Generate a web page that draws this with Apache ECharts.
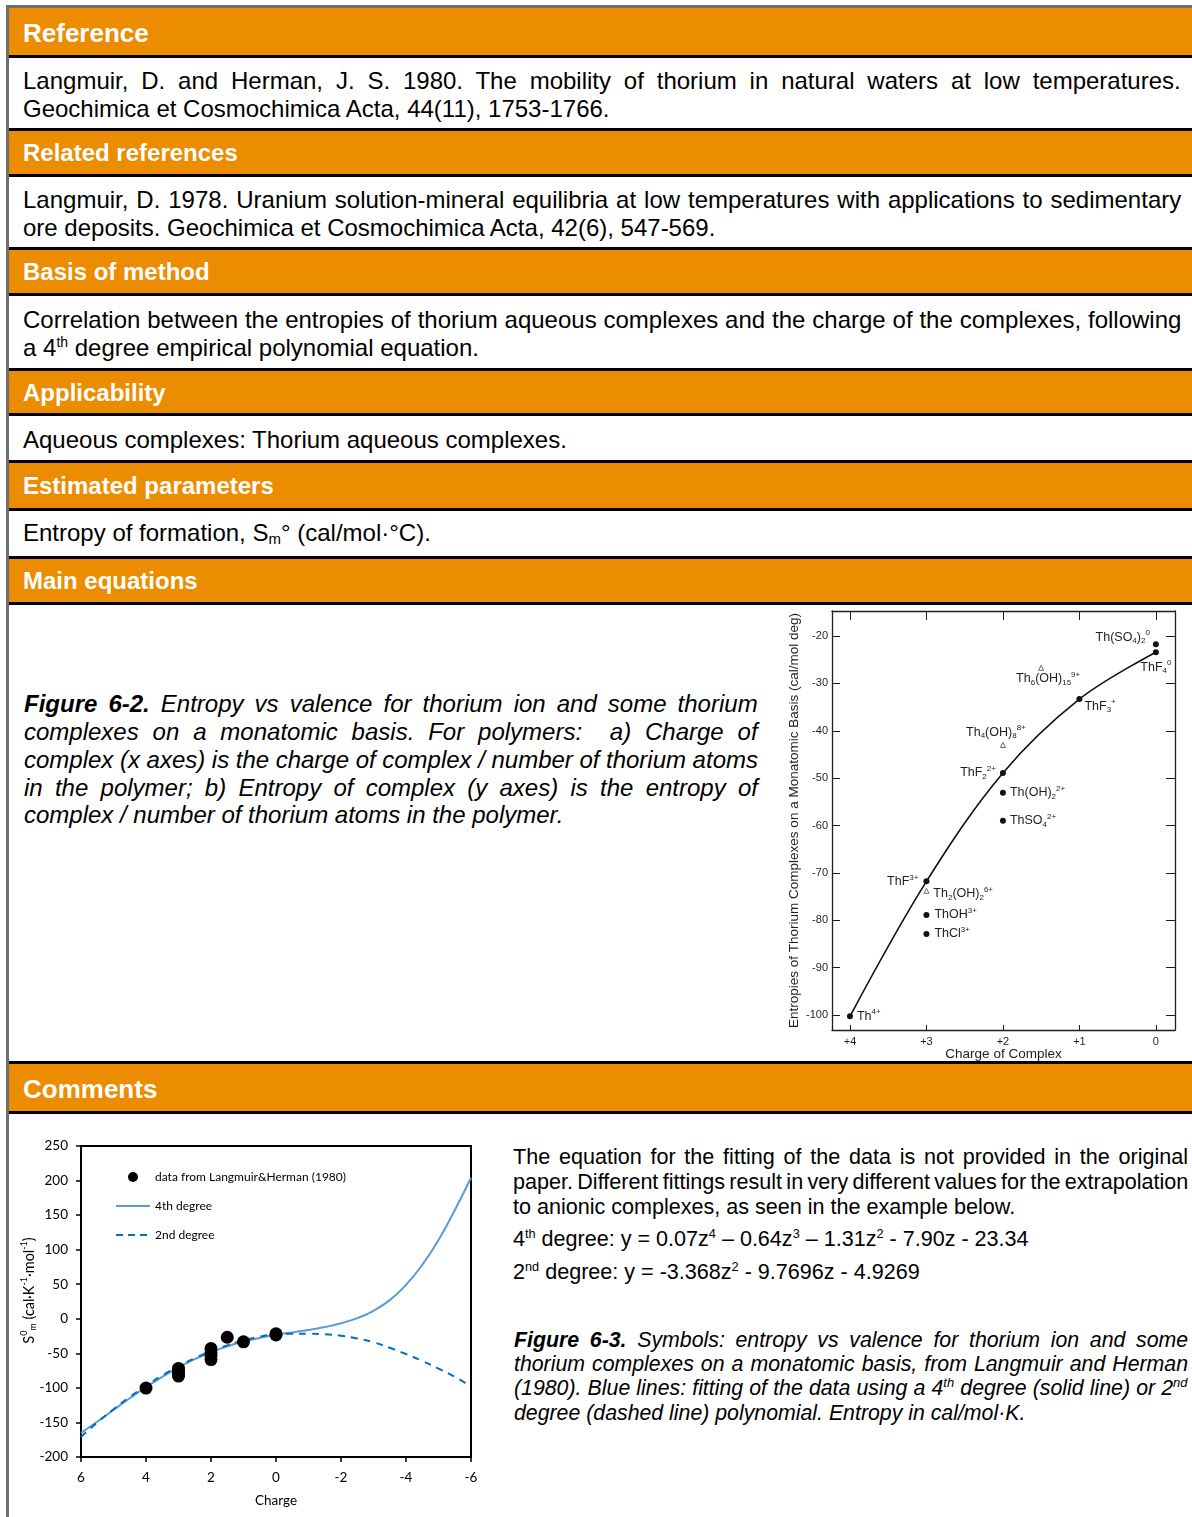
<!DOCTYPE html>
<html><head><meta charset="utf-8">
<script src="https://cdn.jsdelivr.net/npm/echarts@6/dist/echarts.min.js"></script>
<style>
html,body{margin:0;padding:0;background:#fff;}
body{width:1192px;height:1517px;position:relative;overflow:hidden;font-family:'Liberation Sans',Arial,sans-serif;color:#000;}
.hdr{position:absolute;left:9px;width:1183px;background:#EC8C00;color:#fff;font-weight:bold;font-size:24px;display:flex;align-items:center;padding-left:14px;box-sizing:border-box;}
.bl{position:absolute;left:9px;width:1183px;height:3px;background:#000;}
.ln{position:absolute;left:23px;width:1158px;height:28px;line-height:28px;font-size:24px;white-space:nowrap;}
.cap{left:24px;width:734px;font-style:italic;}
.nar{left:513px;width:689px;height:25px;line-height:25px;font-size:22px;transform:scaleX(0.98);transform-origin:0 0;}
.cap3{left:514px;width:674px;height:24px;line-height:24px;font-size:21.3px;font-style:italic;}
sup,sub{line-height:0;}
</style></head>
<body>
<div style="position:absolute;left:6px;top:5px;width:1186px;height:3px;background:#6e6e6e"></div>
<div style="position:absolute;left:6px;top:5px;width:3px;height:1512px;background:#6e6e6e"></div>

<div class="hdr" style="top:8px;height:47px;font-size:26px;padding-top:3px">Reference</div>
<div class="bl" style="top:55px"></div>
<div class="ln j" data-w="1158" style="top:67px">Langmuir, D. and Herman, J. S. 1980. The mobility of thorium in natural waters at low temperatures.</div>
<div class="ln" style="top:95px">Geochimica et Cosmochimica Acta, 44(11), 1753-1766.</div>
<div class="bl" style="top:128px"></div>

<div class="hdr" style="top:131px;height:43px">Related references</div>
<div class="bl" style="top:174px"></div>
<div class="ln j" data-w="1158" style="top:186px">Langmuir, D. 1978. Uranium solution-mineral equilibria at low temperatures with applications to sedimentary</div>
<div class="ln" style="top:214px">ore deposits. Geochimica et Cosmochimica Acta, 42(6), 547-569.</div>
<div class="bl" style="top:247px"></div>

<div class="hdr" style="top:250px;height:43px;padding-top:1px">Basis of method</div>
<div class="bl" style="top:293px"></div>
<div class="ln j" data-w="1158" style="top:306px">Correlation between the entropies of thorium aqueous complexes and the charge of the complexes, following</div>
<div class="ln" style="top:334px">a 4<sup style="font-size:14px">th</sup> degree empirical polynomial equation.</div>
<div class="bl" style="top:368px"></div>

<div class="hdr" style="top:371px;height:42px;padding-top:2px">Applicability</div>
<div class="bl" style="top:413px"></div>
<div class="ln" style="top:426px">Aqueous complexes: Thorium aqueous complexes.</div>
<div class="bl" style="top:460px"></div>

<div class="hdr" style="top:463px;height:45px">Estimated parameters</div>
<div class="bl" style="top:508px"></div>
<div class="ln" style="top:519px">Entropy of formation, S<sub style="font-size:15px;vertical-align:-3px">m</sub>° (cal/mol·°C).</div>
<div class="bl" style="top:556px"></div>

<div class="hdr" style="top:559px;height:43px">Main equations</div>
<div class="bl" style="top:602px"></div>

<div class="ln j cap" data-w="734" style="top:690px"><b>Figure 6-2.</b> Entropy vs valence for thorium ion and some thorium</div>
<div class="ln j cap" data-w="734" style="top:718px">complexes on a monatomic basis. For polymers:&nbsp; a) Charge of</div>
<div class="ln j cap" data-w="734" style="top:746px">complex (x axes) is the charge of complex / number of thorium atoms</div>
<div class="ln j cap" data-w="734" style="top:774px">in the polymer; b) Entropy of complex (y axes) is the entropy of</div>
<div class="ln cap" style="top:801px">complex / number of thorium atoms in the polymer.</div>

<div id="scan" style="position:absolute;left:780px;top:605px;width:412px;height:456px"></div>

<div class="bl" style="top:1061px"></div>
<div class="hdr" style="top:1064px;height:47px;font-size:26px;padding-top:3px">Comments</div>
<div class="bl" style="top:1111px"></div>

<div id="excel" style="position:absolute;left:10px;top:1137px;width:480px;height:379px;outline:1px solid #d9d9d9;outline-offset:-1px"></div>

<div class="ln j nar" data-w="689" style="top:1144px">The equation for the fitting of the data is not provided in the original</div>
<div class="ln j nar" data-w="689" style="top:1169px">paper. Different fittings result in very different values for the extrapolation</div>
<div class="ln nar" style="top:1194px">to anionic complexes, as seen in the example below.</div>
<div class="ln nar" style="top:1226px">4<sup style="font-size:13px">th</sup> degree: y = 0.07z<sup style="font-size:13px">4</sup> – 0.64z<sup style="font-size:13px">3</sup> – 1.31z<sup style="font-size:13px">2</sup> - 7.90z - 23.34</div>
<div class="ln nar" style="top:1259px">2<sup style="font-size:13px">nd</sup> degree: y = -3.368z<sup style="font-size:13px">2</sup> - 9.7696z - 4.9269</div>

<div class="ln j cap3" data-w="674" style="top:1328px"><b>Figure 6-3.</b> Symbols: entropy vs valence for thorium ion and some</div>
<div class="ln j cap3" data-w="674" style="top:1352px">thorium complexes on a monatomic basis, from Langmuir and Herman</div>
<div class="ln j cap3" data-w="674" style="top:1376px">(1980). Blue lines: fitting of the data using a 4<sup style="font-size:13px">th</sup> degree (solid line) or 2<sup style="font-size:13px">nd</sup></div>
<div class="ln cap3" style="top:1401px">degree (dashed line) polynomial. Entropy in cal/mol·K.</div>

<script>
// ===== Figure 6-2 (Langmuir & Herman 1980, scanned plot) =====
const scanTickCharges = [0, 1, 2, 3, 4];
const scanTickEntropies = [-100, -90, -80, -70, -60, -50, -40, -30, -20];
// monomeric complexes (filled dots)
const dotCharge  = [4, 3, 3, 3, 2, 2, 2, 1, 0, 0];
const dotEntropy = [-100.3, -71.8, -78.9, -82.9, -48.9, -53.1, -59.0, -33.3, -23.4, -21.7];
const dotNames = ['{n|Th}{sp|4+}', '{n|ThF}{sp|3+}', '{n|ThOH}{sp|3+}', '{n|ThCl}{sp|3+}',
  '{n|ThF}{sb|2}{sp|2+}', '{n|Th(OH)}{sb|2}{sp|2+}', '{n|ThSO}{sb|4}{sp|2+}',
  '{n|ThF}{sb|3}{sp|+}', '{n|ThF}{sb|4}{sp|0}', '{n|Th(SO}{sb|4}{n|)}{sb|2}{sp|0}'];
// polymeric complexes (open triangles)
const triCharge  = [3, 2, 1.5];
const triEntropy = [-73.8, -43.0, -26.7];
const triNames = ['{n|Th}{sb|2}{n|(OH)}{sb|2}{sp|6+}', '{n|Th}{sb|4}{n|(OH)}{sb|8}{sp|8+}', '{n|Th}{sb|6}{n|(OH)}{sb|15}{sp|9+}'];
// fluoride trend curve
const fitCharge  = [4, 3, 2, 1, 0];
const fitEntropy = [-100.3, -71.8, -48.9, -33.3, -23.4];

// ===== Figure 6-3 (Excel chart) =====
const xlCharge  = [4, 3, 3, 3, 3, 2, 2, 2, 2, 1.5, 1, 0, 0];
const xlEntropy = [-100.3, -71.8, -73.8, -78.9, -82.9, -43.0, -48.9, -53.1, -59.0, -26.7, -33.3, -23.4, -21.7];
const curveCharge = [6, 5.5, 5, 4.5, 4, 3.5, 3, 2.5, 2, 1.5, 1, 0.5, 0, -0.5, -1, -1.5, -2, -2.5, -3, -3.5, -4, -4.5, -5, -5.5, -6];
const fit4th = [-165, -149, -132, -115, -99, -84, -70.5, -58.5, -48.5, -40, -33, -27.7, -23, -19.7, -16.2, -12, -6.5, 1, 11.5, 27, 49, 78, 114, 157, 204];
const fit2nd = [-171, -150, -131, -113, -97, -82, -69, -57, -47, -38.5, -31.5, -26, -22.5, -21.5, -21.5, -22.5, -24.5, -28.5, -34, -42, -51, -61, -72, -84, -98];

// ---------- justify single lines via word spacing ----------
document.querySelectorAll('.j').forEach(el => {
  const target = +el.dataset.w;
  el.style.width = 'auto';
  el.style.display = 'inline-block';
  const nat = el.offsetWidth;
  const n = (el.textContent.match(/[ \u00a0]/g) || []).length;
  el.style.wordSpacing = ((target - nat) / n) + 'px';
  el.style.width = target + 'px';
  el.style.display = 'block';
});

// ---------- scan chart ----------
const dotLabelPos = [
  {position:'right', distance:4}, {position:'left', distance:5}, {position:'right', distance:5}, {position:'right', distance:5},
  {position:'left', distance:4}, {position:'right', distance:4}, {position:'right', distance:4},
  {position:'right', distance:2, offset:[0,7]}, {position:'bottom', distance:4}, {position:'left', distance:3, offset:[0,-7]}
];
const triLabelPos = [{position:'right', distance:4, offset:[0,3]}, {position:'top', distance:2, offset:[-7,0]}, {position:'bottom', distance:0, offset:[7,0]}];
const SF = "'Liberation Sans', Arial, sans-serif";
const INK = '#1e1e1e';
const rich = {
  n: {fontSize: 12.5, fontFamily: SF, color: INK, lineHeight: 16},
  sb: {fontSize: 8, fontFamily: SF, color: INK, verticalAlign: 'bottom'},
  sp: {fontSize: 8, fontFamily: SF, color: INK, verticalAlign: 'top'}
};
const scanX = { type:'value', inverse:true, min:-0.25, max:4.235, splitLine:{show:false} };
const scanY = { type:'value', min:-103.2, max:-14.7, splitLine:{show:false} };
const ax = {onZero:false, lineStyle:{color:INK, width:1.3}};
const scan = echarts.init(document.getElementById('scan'));
scan.setOption({
  animation:false,
  backgroundColor:'#fff',
  grid:{left:52, top:6, width:343, height:419, outerBoundsMode:'none', containLabel:false},
  xAxis:[
    Object.assign({}, scanX, {position:'bottom', axisLine:ax,
      axisTick:{inside:true, length:5, customValues:scanTickCharges, lineStyle:{color:INK}},
      axisLabel:{customValues:scanTickCharges, formatter:v=> v>0 ? '+'+v : String(v), fontSize:11, fontFamily:SF, color:INK, margin:6},
      name:'Charge of Complex', nameLocation:'middle', nameGap:17, nameMoveOverlap:false,
      nameTextStyle:{fontSize:13.5, fontFamily:SF, color:INK}}),
    Object.assign({}, scanX, {position:'top', axisLine:ax,
      axisTick:{inside:true, length:9, customValues:scanTickCharges, lineStyle:{color:INK}},
      axisLabel:{show:false}})
  ],
  yAxis:[
    Object.assign({}, scanY, {position:'left', axisLine:ax,
      axisTick:{inside:true, length:8, customValues:scanTickEntropies, lineStyle:{color:INK}},
      axisLabel:{customValues:scanTickEntropies, fontSize:11, fontFamily:SF, color:INK, margin:4},
      name:'Entropies of Thorium Complexes on a Monatomic Basis (cal/mol deg)', nameLocation:'middle', nameGap:31, nameRotate:90,
      nameMoveOverlap:false, nameTextStyle:{fontSize:13.5, fontFamily:SF, color:INK}}),
    Object.assign({}, scanY, {position:'right', axisLine:ax,
      axisTick:{inside:true, length:9, customValues:scanTickEntropies, lineStyle:{color:INK}},
      axisLabel:{show:false}})
  ],
  series:[
    {type:'line', smooth:0.35, symbol:'none', data: fitCharge.map((c,i)=>[c, fitEntropy[i]]),
     lineStyle:{color:'#111', width:1.6}, z:2},
    {type:'scatter', symbol:'circle', symbolSize:6, itemStyle:{color:'#111', opacity:1}, z:3,
     data: dotCharge.map((c,i)=>({name:dotNames[i], value:[c, dotEntropy[i]],
       label:Object.assign({show:true, formatter:'{b}', rich:rich}, dotLabelPos[i])}))},
    {type:'scatter', symbol:'triangle', symbolSize:5, itemStyle:{color:'#fff', borderColor:'#444', borderWidth:0.8, opacity:1}, z:3,
     data: triCharge.map((c,i)=>({name:triNames[i], value:[c, triEntropy[i]],
       label:Object.assign({show:true, formatter:'{b}', rich:rich}, triLabelPos[i])}))}
  ]
});

// ---------- Excel chart ----------
const LF = "Lato, 'Open Sans', sans-serif";
const xl = echarts.init(document.getElementById('excel'));
xl.setOption({
  animation:false,
  backgroundColor:'#fff',
  grid:{left:71, top:9, width:390, height:311, show:true, borderColor:'#000', borderWidth:2, backgroundColor:'transparent', outerBoundsMode:'none', containLabel:false},
  legend:{
    orient:'vertical', left:101, top:29, itemWidth:34, itemHeight:10, itemGap:17,
    textStyle:{fontSize:12, fontFamily:LF, color:'#000'},
    data:[
      {name:'data from Langmuir&Herman (1980)', icon:'circle'},
      {name:'4th degree', icon:'path://M0,0H34V2H0Z'},
      {name:'2nd degree', icon:'path://M0,0H7V2H0Z M12,0H19V2H12Z M24,0H31V2H24Z M34,0H34.01V2H34Z'}
    ]
  },
  xAxis:{
    type:'value', inverse:true, min:-6, max:6, interval:2,
    axisLine:{onZero:false, lineStyle:{color:'#000', width:2}},
    axisTick:{length:5, lineStyle:{color:'#000', width:1.5}},
    axisLabel:{fontSize:13.5, fontFamily:LF, color:'#000', margin:14, formatter:v=>String(v)},
    splitLine:{show:false},
    name:'Charge', nameLocation:'middle', nameGap:37, nameTextStyle:{fontSize:13.5, fontFamily:LF, color:'#000'}
  },
  yAxis:{
    type:'value', min:-200, max:250, interval:50,
    axisLine:{onZero:false, lineStyle:{color:'#000', width:2}},
    axisTick:{show:true, length:5, lineStyle:{color:'#000', width:1.5}},
    axisLabel:{fontSize:13.5, fontFamily:LF, color:'#000', margin:13},
    splitLine:{show:false},
    name:'{s|S}{sp|0}{sb|m}{t| (cal·K}{sp|-1}{t|·mol}{sp|-1}{t|)}',
    nameLocation:'middle', nameGap:43, nameRotate:90, nameMoveOverlap:false,
    nameTextStyle:{padding:[0,0,0,22], rich:{
      s:{fontSize:14.5, fontFamily:LF, color:'#000', lineHeight:18},
      t:{fontSize:14.5, fontFamily:LF, color:'#000', lineHeight:18},
      sp:{fontSize:9, fontFamily:LF, color:'#000', verticalAlign:'top'},
      sb:{fontSize:9, fontFamily:LF, color:'#000', verticalAlign:'bottom'}
    }}
  },
  series:[
    {name:'4th degree', type:'line', smooth:true, symbol:'none', z:2,
     data: curveCharge.map((c,i)=>[c, fit4th[i]]),
     lineStyle:{color:'#5B9BD5', width:2}, itemStyle:{color:'#5B9BD5'}},
    {name:'2nd degree', type:'line', smooth:true, symbol:'none', z:2,
     data: curveCharge.map((c,i)=>[c, fit2nd[i]]),
     lineStyle:{color:'#0070C0', width:2, type:[7,6]}, itemStyle:{color:'#0070C0'}},
    {name:'data from Langmuir&Herman (1980)', type:'scatter', symbol:'circle', symbolSize:13, z:3,
     data: xlCharge.map((c,i)=>[c, xlEntropy[i]]),
     itemStyle:{color:'#000', opacity:1}}
  ]
});
</script>
</body></html>
